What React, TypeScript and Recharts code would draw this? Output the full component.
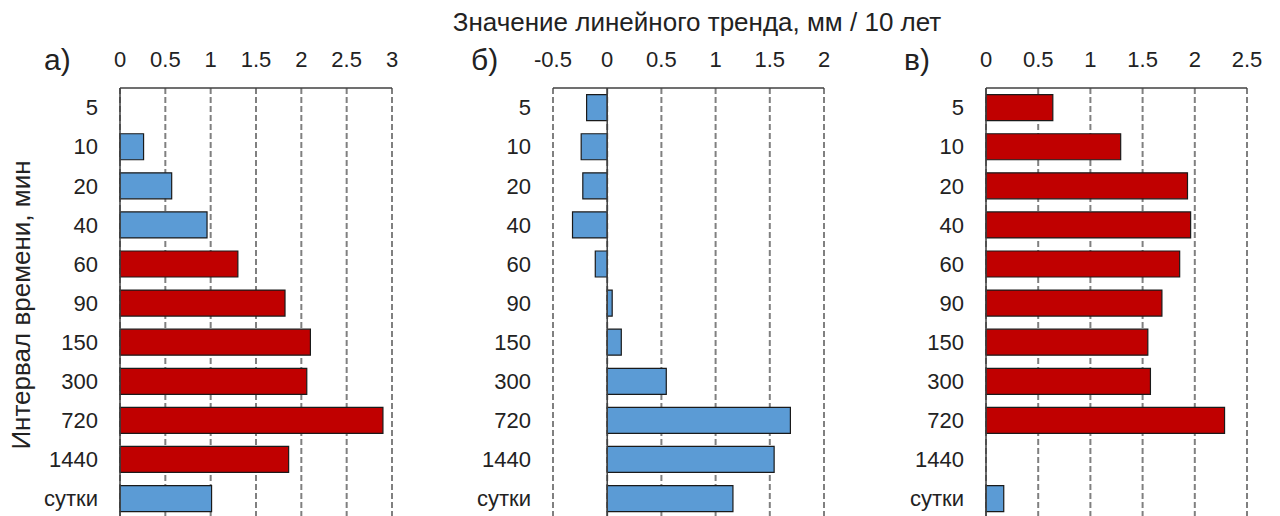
import { BarChart, Bar, XAxis, YAxis, CartesianGrid, ReferenceLine, Cell } from 'recharts';

const categories = ['5', '10', '20', '40', '60', '90', '150', '300', '720', '1440', 'сутки'];

// а) значения тренда, мм / 10 лет
const valuesA = [0, 0.26, 0.57, 0.96, 1.3, 1.82, 2.1, 2.06, 2.9, 1.86, 1.01];
const colorsA = ['blue', 'blue', 'blue', 'blue', 'red', 'red', 'red', 'red', 'red', 'red', 'blue'];
const ticksA = [0, 0.5, 1, 1.5, 2, 2.5, 3];

// б)
const valuesB = [-0.19, -0.24, -0.225, -0.32, -0.11, 0.046, 0.13, 0.545, 1.69, 1.54, 1.16];
const colorsB = ['blue', 'blue', 'blue', 'blue', 'blue', 'blue', 'blue', 'blue', 'blue', 'blue', 'blue'];
const ticksB = [-0.5, 0, 0.5, 1, 1.5, 2];

// в) для 1440 значения нет
const valuesC = [0.64, 1.29, 1.93, 1.96, 1.855, 1.685, 1.55, 1.575, 2.285, null, 0.17];
const colorsC = ['red', 'red', 'red', 'red', 'red', 'red', 'red', 'red', 'red', 'red', 'blue'];
const ticksC = [0, 0.5, 1, 1.5, 2, 2.5];

const palette: Record<string, string> = { red: '#C00000', blue: '#5B9BD5' };
const FONT = '"Liberation Sans", Arial, sans-serif';

interface PanelProps {
  values: (number | null)[];
  colors: string[];
  ticks: number[];
  left: number;
  width: number;
  axisWidth: number;
  right: number;
}

const Panel = ({ values, colors, ticks, left, width, axisWidth, right }: PanelProps) => {
  const data = categories.map((name, i) => ({ name, value: values[i] }));
  return (
    <div style={{ position: 'absolute', left, top: 0 }}>
      <BarChart
        width={width}
        height={518}
        data={data}
        layout="vertical"
        barCategoryGap="17%"
        margin={{ top: 0, right, left: 0, bottom: 0 }}
      >
        <CartesianGrid horizontal={false} stroke="#808080" strokeWidth={2} strokeDasharray="6 3" />
        <XAxis
          type="number"
          orientation="top"
          domain={[ticks[0], ticks[ticks.length - 1]]}
          ticks={ticks}
          height={88}
          tickSize={0}
          tickMargin={21}
          axisLine={{ stroke: '#404040', strokeWidth: 1.5 }}
          tick={{ fill: '#222', fontSize: 22, fontFamily: FONT }}
        />
        <YAxis
          type="category"
          dataKey="name"
          width={axisWidth}
          axisLine={false}
          tickLine={false}
          tickSize={0}
          tickMargin={22}
          interval={0}
          tick={{ fill: '#222', fontSize: 22, fontFamily: FONT }}
        />
        <ReferenceLine x={0} stroke="#404040" strokeWidth={1.5} />
        <Bar dataKey="value" stroke="#1a1a1a" strokeWidth={1.2} isAnimationActive={false}>
          {data.map((d, i) => (
            <Cell key={`c-${i}`} fill={palette[colors[i]]} />
          ))}
        </Bar>
      </BarChart>
    </div>
  );
};

const labelStyle = { position: 'absolute' as const, fontFamily: FONT, color: '#222', lineHeight: 1, whiteSpace: 'nowrap' as const };

export default function App() {
  return (
    <div style={{ position: 'absolute', left: 0, top: 0, width: 1280, height: 516, background: '#fff', overflow: 'hidden' }}>
      <Panel values={valuesA} colors={colorsA} ticks={ticksA} left={0} width={420} axisWidth={120} right={28} />
      <Panel values={valuesB} colors={colorsB} ticks={ticksB} left={420} width={430} axisWidth={133} right={26} />
      <Panel values={valuesC} colors={colorsC} ticks={ticksC} left={850} width={430} axisWidth={136} right={33} />
      <div style={{ ...labelStyle, left: 697, top: 9, fontSize: 26, transform: 'translateX(-50%)' }}>
        Значение линейного тренда, мм / 10 лет
      </div>
      <div style={{ ...labelStyle, left: 44, top: 45, fontSize: 30 }}>а)</div>
      <div style={{ ...labelStyle, left: 471, top: 45, fontSize: 30 }}>б)</div>
      <div style={{ ...labelStyle, left: 904, top: 45, fontSize: 30 }}>в)</div>
      <div
        style={{
          ...labelStyle,
          left: 21,
          top: 305,
          fontSize: 26,
          transform: 'translate(-50%, -50%) rotate(-90deg)',
        }}
      >
        Интервал времени, мин
      </div>
    </div>
  );
}
